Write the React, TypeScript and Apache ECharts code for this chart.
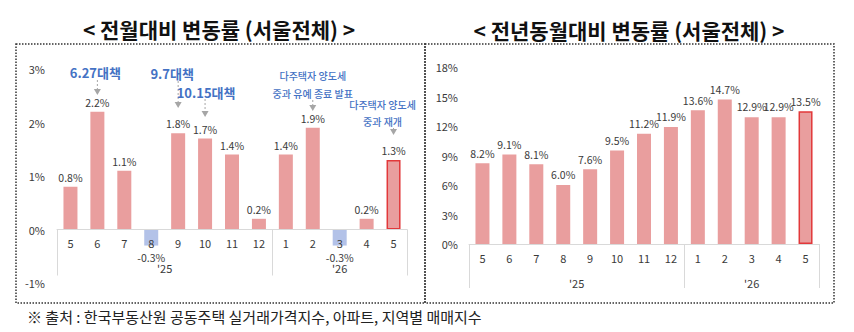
import React, { useEffect, useRef } from 'react';
import * as echarts from 'echarts';

// ---- data ----
const months = ['5', '6', '7', '8', '9', '10', '11', '12', '1', '2', '3', '4', '5'];
const momValues = [0.8, 2.2, 1.1, -0.3, 1.8, 1.7, 1.4, 0.2, 1.4, 1.9, -0.3, 0.2, 1.3];
const yoyValues = [8.2, 9.1, 8.1, 6.0, 7.6, 9.5, 11.2, 11.9, 13.6, 14.7, 12.9, 12.9, 13.5];
const yearLabels = ["'25", "'26"];
const yearSpans = [8, 5];
const titles = ['< 전월대비 변동률 (서울전체) >', '< 전년동월대비 변동률 (서울전체) >'];
const footnote = '※ 출처 : 한국부동산원 공동주택 실거래가격지수, 아파트, 지역별 매매지수';
const annotationTexts = [
  { idx: 1, lines: ['6.27대책'], major: true },
  { idx: 4, lines: ['9.7대책'], major: true },
  { idx: 5, lines: ['10.15대책'], major: true },
  { idx: 9, lines: ['다주택자 양도세', '중과 유예 종료 발표'], major: false },
  { idx: 12, lines: ['다주택자 양도세', '중과 재개'], major: false },
];

export default function App() {
  const ref = useRef<HTMLDivElement>(null);
  useEffect(() => {
    const chart = echarts.init(ref.current!, null, { renderer: 'svg' });
    const FONT = '"Noto Sans CJK KR", "Noto Sans", sans-serif';
    const BAR = '#E99E9E';
    const NEG = '#B3C2E8';
    const LAST_BORDER = '#E2383A';
    const TXT = '#3a3a3a';
    const GRID_LINE = '#D9D9D9';
    const BLUE = '#4472C4';
    const last = months.length - 1;

    const boundaries = yearSpans.reduce((acc: number[], s) => [...acc, acc[acc.length - 1] + s], [0]);
    const centers = yearSpans.map((s, i) => boundaries[i] + s / 2);
    const yearFmt = (v: number) => {
      const i = centers.findIndex((c) => Math.abs(c - v) < 1e-6);
      return i >= 0 ? yearLabels[i] : '';
    };

    const barItems = (vals: number[]) =>
      vals.map((v, i) => ({
        value: v,
        itemStyle: {
          color: v < 0 ? NEG : BAR,
          borderColor: i === last ? LAST_BORDER : BAR,
          borderWidth: i === last ? 1.5 : 0,
        },
        label: { position: v < 0 ? 'bottom' : 'top', distance: v < 0 ? 7 : undefined },
      }));

    const catAxis = (gridIndex: number, offset: number) => ({
      type: 'category',
      gridIndex,
      data: months,
      position: 'bottom',
      offset,
      z: 5,
      axisLine: { show: true, onZero: false, lineStyle: { color: GRID_LINE, width: 1 } },
      axisTick: { show: false },
      axisLabel: { color: TXT, fontSize: 11, margin: 8, fontFamily: FONT },
    });
    const yearAxis = (gridIndex: number, offset: number, tickLen: number) => ({
      type: 'value',
      gridIndex,
      min: 0,
      max: months.length,
      position: 'bottom',
      offset,
      axisLine: { show: false, onZero: false },
      splitLine: { show: false },
      axisTick: {
        show: true,
        customValues: boundaries,
        length: tickLen,
        lineStyle: { color: GRID_LINE, width: 1 },
      },
      axisLabel: {
        customValues: centers,
        formatter: yearFmt,
        color: TXT,
        fontSize: 11,
        margin: 33,
        fontFamily: FONT,
      },
    });

    const option: any = {
      animation: false,
      textStyle: { fontFamily: FONT },
      grid: [
        { left: 57, top: 69, width: 350, height: 214 },
        { left: 469, top: 67, width: 350, height: 177 },
      ],
      xAxis: [catAxis(0, -53.5), yearAxis(0, -53.5, 46), catAxis(1, 0), yearAxis(1, 0, 44)],
      yAxis: [
        {
          type: 'value', gridIndex: 0, min: -1, max: 3, interval: 1,
          axisLine: { show: false }, axisTick: { show: false }, splitLine: { show: false },
          axisLabel: { formatter: '{value}%', color: TXT, fontSize: 11, margin: 12, fontFamily: FONT },
        },
        {
          type: 'value', gridIndex: 1, min: 0, max: 18, interval: 3,
          axisLine: { show: false }, axisTick: { show: false }, splitLine: { show: false },
          axisLabel: { formatter: '{value}%', color: TXT, fontSize: 11, margin: 11, fontFamily: FONT },
        },
      ],
      series: [
        {
          type: 'bar', xAxisIndex: 0, yAxisIndex: 0, barWidth: 14,
          data: barItems(momValues),
          label: {
            show: true, distance: 4, color: TXT, fontSize: 10.5, fontFamily: FONT,
            formatter: (p: any) => `${Number(p.value).toFixed(1)}%`,
          },
        },
        {
          type: 'bar', xAxisIndex: 2, yAxisIndex: 1, barWidth: 14,
          data: barItems(yoyValues),
          label: {
            show: true, distance: 5, color: TXT, fontSize: 10.5, fontFamily: FONT,
            formatter: (p: any) => `${Number(p.value).toFixed(1)}%`,
          },
        },
      ],
    };
    chart.setOption(option);

    // ---- decorations & annotations ----
    const layout = [
      { dx: -2, textY: [72], from: 80, tip: 95 },
      { dx: -6, textY: [73], from: 81, tip: 108 },
      { dx: 1, textY: [92], from: 99, tip: 117 },
      { dx: 0, textY: [75, 93], from: 100, tip: 111 },
      { dx: -11, textY: [104, 121], from: 128, tip: 135 },
    ];
    const graphics: any[] = [
      {
        type: 'rect', shape: { x: 16, y: 44, width: 409, height: 259 },
        style: { fill: 'none', stroke: '#333', lineWidth: 1.5, lineDash: [1.5, 1.5] },
      },
      {
        type: 'rect', shape: { x: 425, y: 44, width: 409, height: 259 },
        style: { fill: 'none', stroke: '#333', lineWidth: 1.5, lineDash: [1.5, 1.5] },
      },
      {
        type: 'text', x: 219, y: 29,
        style: { text: titles[0], font: `bold 21px ${FONT}`, fill: '#111', align: 'center', verticalAlign: 'middle' },
      },
      {
        type: 'text', x: 629, y: 30,
        style: { text: titles[1], font: `bold 21px ${FONT}`, fill: '#111', align: 'center', verticalAlign: 'middle' },
      },
      {
        type: 'text', x: 27, y: 316,
        style: { text: footnote, font: `15px ${FONT}`, fill: '#222', align: 'left', verticalAlign: 'middle' },
      },
    ];
    annotationTexts.forEach((a, k) => {
      const L = layout[k];
      const [bx] = chart.convertToPixel({ xAxisIndex: 0, yAxisIndex: 0 } as any, [a.idx, momValues[a.idx]]) as number[];
      a.lines.forEach((t, j) => {
        graphics.push({
          type: 'text', x: bx + L.dx, y: L.textY[j],
          style: {
            text: t,
            font: a.major ? `bold 13px ${FONT}` : `500 10px ${FONT}`,
            fill: BLUE, align: 'center', verticalAlign: 'middle',
          },
        });
      });
      graphics.push({
        type: 'line', shape: { x1: bx, y1: L.from, x2: bx, y2: L.tip - 5 },
        style: { stroke: '#A6A6A6', lineWidth: 1, lineDash: [2, 2] },
      });
      graphics.push({
        type: 'polygon', shape: { points: [[bx - 3.5, L.tip - 6], [bx + 3.5, L.tip - 6], [bx, L.tip]] },
        style: { fill: '#A6A6A6' },
      });
    });
    chart.setOption({ graphic: graphics });

    return () => chart.dispose();
  }, []);

  return (
    <div
      ref={ref}
      style={{ position: 'absolute', left: 0, top: 0, width: 854, height: 332, background: '#fff' }}
    />
  );
}
